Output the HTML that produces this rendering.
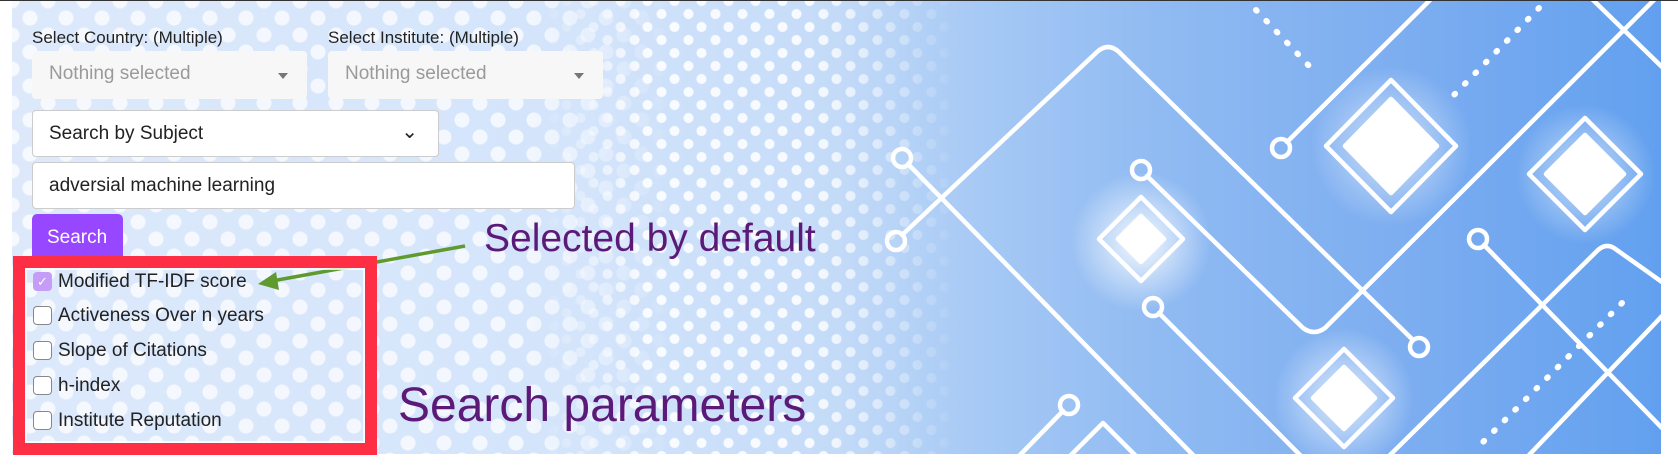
<!DOCTYPE html>
<html><head><meta charset="utf-8"><style>
*{margin:0;padding:0;box-sizing:border-box}
body{width:1678px;height:475px;background:#fff;position:relative;overflow:hidden;font-family:"Liberation Sans",sans-serif}
.bg{position:absolute;left:12px;top:1px;width:1649px;height:453px;
background:linear-gradient(90deg,#dde9fb 0%,#d3e4fb 35%,#c4dbf8 50%,#a8caf5 58%,#8fbaf2 70%,#7cadf0 85%,#62a0ef 100%)}
.dots{position:absolute;top:1px;height:453px;
background-image:radial-gradient(circle,rgba(255,255,255,.85) 7px,transparent 8px),radial-gradient(circle,rgba(255,255,255,.85) 7px,transparent 8px);
background-size:36px 34px,36px 34px;background-position:0 0,18px 17px}
.dots2{position:absolute;top:1px;height:453px;
background-image:radial-gradient(circle,rgba(255,255,255,.85) 4.5px,transparent 5.5px),radial-gradient(circle,rgba(255,255,255,.85) 4.5px,transparent 5.5px);
background-size:27px 26px,27px 26px;background-position:0 0,13px 13px}
.topline{position:absolute;left:0;top:0;width:1678px;height:1px;background:#333}
.lbl{position:absolute;top:28px;font-size:17px;color:#222}
.gray{position:absolute;top:51px;height:48px;width:275px;background:#f7f7f7;border-radius:4px;color:#9a9a9a;font-size:19px;padding:12px 0 0 17px}
.gray:after{content:"";position:absolute;right:19px;top:22px;border:5px solid transparent;border-top:6px solid #777}
.box{position:absolute;left:32px;background:#fff;border:1px solid #ccc;border-radius:4px;font-size:19px;color:#222;padding:12px 0 0 16px}
.btn{position:absolute;left:32px;top:214px;width:91px;height:48px;background:#9747ff;border-radius:5px 5px 0 0;color:#fff;font-size:19px;padding:13px 0 0 15px}
.red{position:absolute;left:13px;top:256px;width:364px;height:199px;border:12px solid #fe2e44}
.inner{position:absolute;left:25px;top:268px;width:340px;height:175px;border:2px solid rgba(255,255,255,.8)}
.cb{position:absolute;left:33px;width:19px;height:19px;border:1px solid #888;border-radius:4px;background:#fff}
.ct{position:absolute;left:58px;font-size:19px;color:#222}
.big{position:absolute;color:#5c1a78;white-space:nowrap}
</style></head><body>
<div class="bg"></div>
<div class="dots" style="left:12px;width:660px;opacity:.85;-webkit-mask-image:linear-gradient(90deg,#000 78%,transparent)"></div>
<div class="dots2" style="left:540px;width:420px;-webkit-mask-image:linear-gradient(90deg,transparent,#000 25%,#000 65%,transparent)"></div>
<svg style="position:absolute;left:0;top:0" width="1678" height="475">
<defs>
<radialGradient id="g"><stop offset="0" stop-color="#fff" stop-opacity=".9"/><stop offset="1" stop-color="#fff" stop-opacity="0"/></radialGradient>
<clipPath id="c"><rect x="12" y="1" width="1649" height="453"/></clipPath>
</defs>
<g clip-path="url(#c)" fill="none" stroke="#fff" stroke-width="4.5" stroke-linejoin="round" stroke-linecap="round">
<circle cx="1141" cy="242" r="70" fill="url(#g)" stroke="none"/>
<circle cx="1391" cy="146" r="80" fill="url(#g)" stroke="none" opacity=".7"/>
<circle cx="1585" cy="174" r="70" fill="url(#g)" stroke="none" opacity=".7"/>
<circle cx="1344" cy="398" r="70" fill="url(#g)" stroke="none" opacity=".8"/>
<path d="M902,235 L1097,52 Q1108,42 1119,52 L1413,340"/>
<circle cx="896" cy="241" r="9"/><circle cx="1419" cy="347" r="9"/>
<line x1="908" y1="164" x2="1193" y2="455"/><circle cx="902" cy="158" r="9"/>
<path d="M1147,176 L1303,328 Q1314,336 1325,328 L1662,-8"/><circle cx="1141" cy="170" r="9"/>
<line x1="1287" y1="142" x2="1430" y2="0"/><circle cx="1281" cy="148" r="9"/>
<line x1="1159" y1="313" x2="1300" y2="455"/><circle cx="1153" cy="307" r="9"/>
<line x1="1484" y1="245" x2="1662" y2="428"/><circle cx="1478" cy="239" r="9"/>
<path d="M1390,455 L1598,250 Q1606,243 1614,248 L1662,282"/>
<line x1="1529" y1="455" x2="1662" y2="316"/>
<line x1="1063" y1="411" x2="1020" y2="455"/><circle cx="1069" cy="405" r="9"/>
<line x1="1593" y1="0" x2="1662" y2="67"/>
<polygon points="1391,80 1456,146 1391,212 1326,146"/>
<polygon points="1391,99 1437,146 1391,193 1345,146" fill="#fff"/>
<polygon points="1585,118 1641,174 1585,230 1529,174"/>
<polygon points="1585,135 1624,174 1585,213 1546,174" fill="#fff"/>
<polygon points="1141,197 1183,239 1141,281 1099,239"/>
<polygon points="1141,216 1164,239 1141,262 1118,239" fill="#fff"/>
<polygon points="1344,349 1393,398 1344,447 1295,398"/>
<polygon points="1344,367 1375,398 1344,429 1313,398" fill="#fff"/>
<polygon points="1103,423 1137,457 1069,457"/>
<g stroke-dasharray="1 14" stroke-width="6"><line x1="1256" y1="10" x2="1312" y2="69"/><line x1="1539" y1="8" x2="1451" y2="98"/><line x1="1622" y1="303" x2="1475" y2="450"/></g>
</g>
<line x1="465" y1="246" x2="272" y2="281" stroke="#5f9a2e" stroke-width="3.5"/>
<polygon points="258,284 276,272 279,290" fill="#5f9a2e"/>
</svg>
<div class="topline"></div>
<div class="lbl" style="left:32px">Select Country: (Multiple)</div>
<div class="lbl" style="left:328px">Select Institute: (Multiple)</div>
<div class="gray" style="left:32px">Nothing selected</div>
<div class="gray" style="left:328px">Nothing selected</div>
<div class="box" style="top:110px;width:407px;height:47px">Search by Subject<span style="position:absolute;right:20px;top:8px;font-size:20px">&#8964;</span></div>
<div class="box" style="top:162px;width:543px;height:47px">adversial machine learning</div>
<div class="btn">Search</div>
<div class="inner"></div>
<div class="red"></div>
<div class="cb" style="top:272px;background:#c59cf7;border-color:#c59cf7;color:#fff;font-size:13px;text-align:center;line-height:17px">&#10003;</div>
<div class="ct" style="top:271px">Modified TF-IDF score</div>
<div class="cb" style="top:306px"></div><div class="ct" style="top:305px">Activeness Over n years</div>
<div class="cb" style="top:341px"></div><div class="ct" style="top:340px">Slope of Citations</div>
<div class="cb" style="top:376px"></div><div class="ct" style="top:375px">h-index</div>
<div class="cb" style="top:411px"></div><div class="ct" style="top:410px">Institute Reputation</div>
<div class="big" style="left:484px;top:217px;font-size:39px">Selected by default</div>
<div class="big" style="left:398px;top:378px;font-size:48px">Search parameters</div>
</body></html>
